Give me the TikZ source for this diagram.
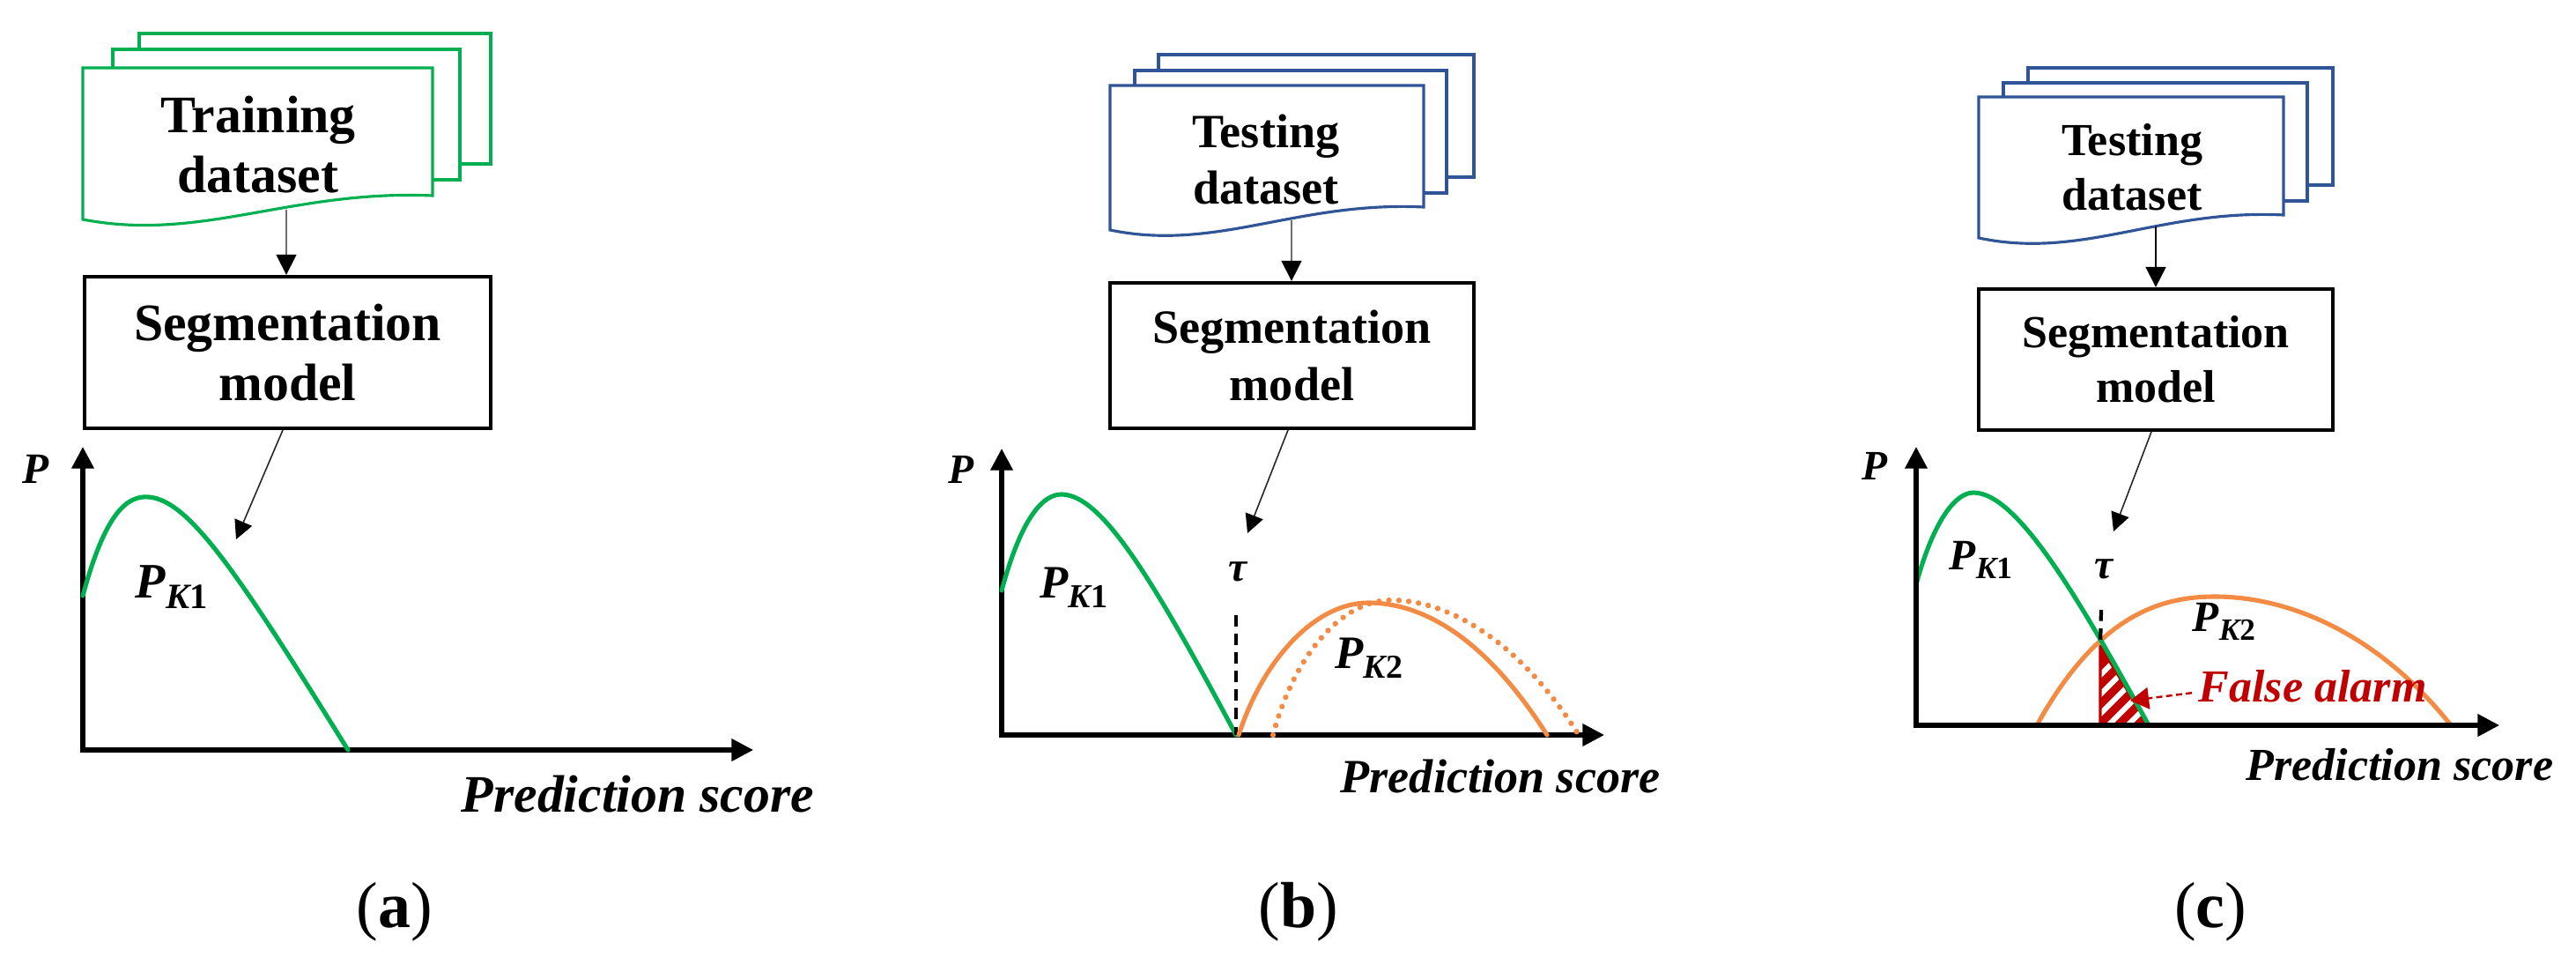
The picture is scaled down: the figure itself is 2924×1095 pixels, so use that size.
\documentclass[tikz,border=0pt]{standalone}
\usepackage{fontspec}
\setmainfont{Liberation Serif}
\usetikzlibrary{arrows.meta}
\definecolor{docgreen}{RGB}{0,176,80}
\definecolor{docblue}{RGB}{47,85,151}
\definecolor{curvegreen}{RGB}{0,176,80}
\definecolor{curveorange}{RGB}{244,139,68}
\definecolor{alarmred}{RGB}{192,0,0}
\definecolor{arrowgray}{RGB}{110,110,110}
\newcommand\szA{\fontsize{17}{19.3}\selectfont}
\newcommand\szB{\fontsize{15.4}{18.3}\selectfont}
\newcommand\szC{\fontsize{14.8}{17.7}\selectfont}
\newcommand\pklabel[3]{{\fontsize{#1}{#1}\selectfont\bfseries\itshape P\raisebox{-0.2em}{\fontsize{#2}{#2}\selectfont K\upshape #3}}}
\begin{document}
\begin{tikzpicture}[x=0.01cm,y=-0.01cm,
  docG/.style={draw=docgreen, line width=0.9pt, fill=white},
  docB/.style={draw=docblue, line width=0.9pt, fill=white},
  segbox/.style={draw=black, line width=1.2pt, inner sep=0pt, align=center},
  axis/.style={line width=1.45pt, {Triangle[length=7pt,width=7pt]}-{Triangle[length=7pt,width=7pt]}},
  feed/.style={draw=arrowgray, line width=0.45pt, -{Triangle[length=6.5pt,width=6.5pt,color=black]}},
  feedblack/.style={draw=black, line width=0.6pt, -{Triangle[length=6.5pt,width=6.5pt]}},
  outarrow/.style={draw=black!85, line width=0.45pt, -{Triangle[length=6pt,width=6pt,color=black]}},
  pdf/.style={line width=1.45pt, line cap=round},
  thresh/.style={line width=1.2pt, dash pattern=on 3.6pt off 2.4pt},
  txt/.style={inner sep=0pt},
]
\useasboundingbox (0,0) rectangle (2924,1095);

% ================= panel (a) =================
\draw[docG] (158,38) rectangle (557,186);
\draw[docG] (128,56) rectangle (522,204);
\draw[docG] (94,77) -- (491,77) -- (491,222) .. controls (330,215) and (229,275) .. (94,249) -- cycle;
\node[txt, align=center, font=\szA\bfseries] (dsA) at (293,164) {Training\\dataset};
\coordinate (dsAb) at (325,238);
\node[segbox, minimum width=4.61cm, minimum height=1.72cm, font=\szA\bfseries] (segA) at (326.5,400) {Segmentation\\model};
\draw[feed] (dsAb) -- (segA.north -| dsAb);
\coordinate (segAout) at (321,488);
\coordinate (tA) at (268,612);
\draw[outarrow] (segAout) -- (tA);
\coordinate (oA) at (94,851);
\draw[axis] (94,507) -- (oA) -- (855,851);
\node[txt, font=\fontsize{14}{14}\selectfont\bfseries\itshape] (PA) at (41,532) {P};
\draw[pdf, curvegreen] (94,676) .. controls (120,580) and (145,562) .. (169,564) .. controls (215,568) and (270,650) .. (395,851);
\node[txt, anchor=base west] (pkA) at (153,679) {\pklabel{16}{11.5}{1}};
\node[txt, anchor=base west, font=\szA\bfseries\itshape] (xA) at (523,922) {Prediction score};
\node[txt, anchor=base, font=\fontsize{21}{21}\selectfont] (capA) at (448,1053) {(\textbf{a})};

% ================= panel (b) =================
\draw[docB] (1315,62) rectangle (1673,201);
\draw[docB] (1288,80) rectangle (1642,219);
\draw[docB] (1260,97) -- (1616,97) -- (1616,235) .. controls (1472,228) and (1381,286) .. (1260,261) -- cycle;
\node[txt, align=center, font=\szB\bfseries] (dsB) at (1437,181) {Testing\\dataset};
\coordinate (dsBb) at (1466,250);
\node[segbox, minimum width=4.13cm, minimum height=1.65cm, font=\szB\bfseries] (segB) at (1466.5,403.5) {Segmentation\\model};
\draw[feed] (dsBb) -- (segB.north -| dsBb);
\coordinate (segBout) at (1462,488);
\coordinate (tB) at (1416,605);
\draw[outarrow] (segBout) -- (tB);
\coordinate (oB) at (1137,834);
\draw[axis] (1137,509) -- (oB) -- (1821,834);
\node[txt, font=\fontsize{13.5}{13.5}\selectfont\bfseries\itshape] (PB) at (1091,533) {P};
\draw[pdf, curvegreen] (1137,670) .. controls (1160,585) and (1185,560) .. (1206,561) .. controls (1250,563) and (1305,650) .. (1403,834);
\node[txt, font=\fontsize{13.5}{13.5}\selectfont\bfseries\itshape] (tauB) at (1405,649) {τ};
\draw[thresh] (1403,698) -- (1403,834);
\draw[pdf, curveorange] (1406,834) .. controls (1435,745) and (1495,684) .. (1553,684) .. controls (1620,684) and (1690,730) .. (1756,834);
\draw[pdf, curveorange, line width=1.8pt, dash pattern=on 0.01pt off 3.2pt] (1445,834) .. controls (1470,740) and (1525,681) .. (1579,681) .. controls (1650,681) and (1730,735) .. (1792,834);
\node[txt, anchor=base west] (pk1B) at (1180,679) {\pklabel{15}{10.8}{1}};
\node[txt, anchor=base west] (pk2B) at (1515,759) {\pklabel{15}{10.8}{2}};
\node[txt, anchor=base west, font=\szB\bfseries\itshape] (xB) at (1521,900) {Prediction score};
\node[txt, anchor=base, font=\fontsize{21}{21}\selectfont] (capB) at (1474,1053) {(\textbf{b})};

% ================= panel (c) =================
\draw[docB] (2302,77) rectangle (2648,210);
\draw[docB] (2274,94) rectangle (2619,228);
\draw[docB] (2246,110) -- (2592,110) -- (2592,244) .. controls (2452,237) and (2364,295) .. (2246,270) -- cycle;
\node[txt, align=center, font=\szC\bfseries] (dsC) at (2420,190) {Testing\\dataset};
\coordinate (dsCb) at (2447,257);
\node[segbox, minimum width=4.02cm, minimum height=1.60cm, font=\szC\bfseries] (segC) at (2447,408) {Segmentation\\model};
\draw[feedblack] (dsCb) -- (segC.north -| dsCb);
\coordinate (segCout) at (2442,490);
\coordinate (tC) at (2399,603);
\draw[outarrow] (segCout) -- (tC);
% hatched false-alarm region
\coordinate (h1) at (2384,733);
\coordinate (h2) at (2384,823);
\coordinate (h3) at (2439,823);
\fill[alarmred] (h1) -- (h2) -- (h3) -- cycle;
\begin{scope}
  \clip (h1) -- (h2) -- (h3) -- cycle;
  \foreach \k in {0,...,9} \draw[white, line width=1.7pt] (2300+\k*22,850) -- ++(160,-160);
\end{scope}
\draw[alarmred, line width=0.9pt, line join=round] (h1) -- (h2) -- (h3) -- cycle;
\draw[pdf, curveorange] (2312,823) .. controls (2380,700) and (2450,677) .. (2514,677) .. controls (2600,677) and (2700,720) .. (2782,823);
\draw[pdf, curvegreen] (2175,663) .. controls (2195,590) and (2220,559) .. (2240,559) .. controls (2290,559) and (2360,680) .. (2439,823);
\coordinate (oC) at (2175,823);
\draw[axis] (2175,507) -- (oC) -- (2837,823);
\node[txt, font=\fontsize{13.5}{13.5}\selectfont\bfseries\itshape] (PC) at (2128,529) {P};
\node[txt, font=\fontsize{13.5}{13.5}\selectfont\bfseries\itshape] (tauC) at (2388,646) {τ};
\draw[thresh] (2385,692) -- (h1);
\node[txt, anchor=base west] (pk1C) at (2212,647) {\pklabel{14}{10}{1}};
\node[txt, anchor=base west] (pk2C) at (2488,717) {\pklabel{14}{10}{2}};
\node[txt, anchor=base west, font=\szC\bfseries\itshape, text=alarmred] (fa) at (2495,797) {False alarm};
\coordinate (fatip) at (2418,795);
\draw[alarmred, line width=0.7pt, dash pattern=on 2pt off 1.2pt, -{Triangle[length=6pt,width=7pt]}] ([xshift=-2pt,yshift=-2pt]fa.west) -- (fatip);
\node[txt, anchor=base west, font=\szC\bfseries\itshape] (xC) at (2549,886) {Prediction score};
\node[txt, anchor=base, font=\fontsize{21}{21}\selectfont] (capC) at (2509,1053) {(\textbf{c})};
\end{tikzpicture}
\end{document}
